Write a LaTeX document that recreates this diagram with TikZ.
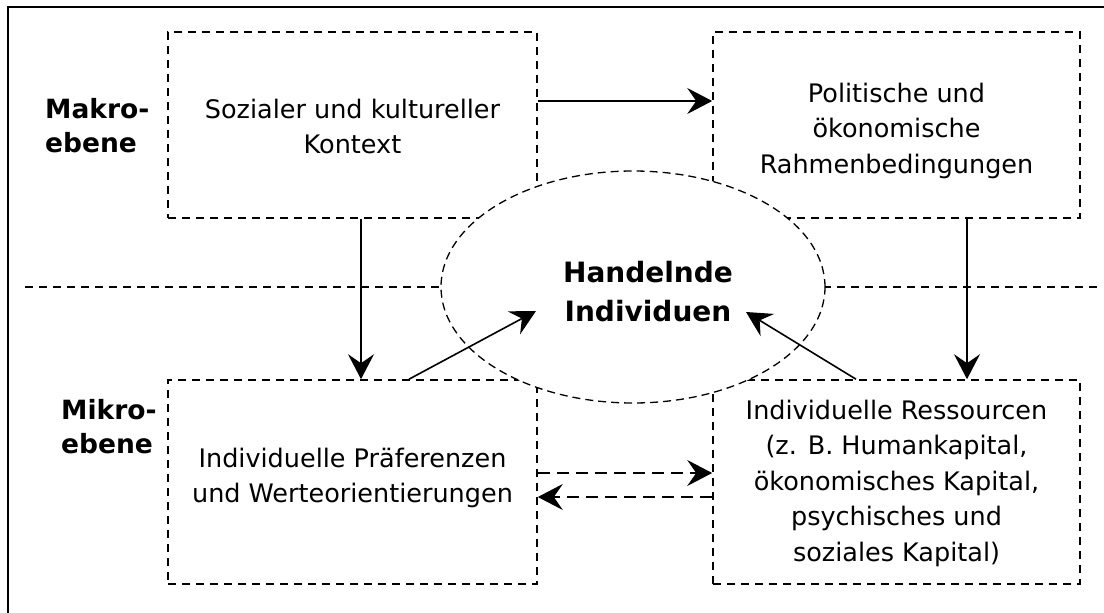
\documentclass[tikz,border=0pt]{standalone}
\usepackage{fontspec}
\setmainfont{DejaVu Sans}
\usetikzlibrary{arrows.meta,shapes.geometric}
\newcommand\firststrut{\rule{0pt}{22pt}}
\begin{document}
\begin{tikzpicture}[x=1pt,y=-1pt,
  box/.style={draw, dash pattern=on 8pt off 6pt, line width=1.6pt, inner sep=0pt},
  txt/.style={inner sep=0pt, align=center, font={\fontsize{25.5pt}{35.5pt}\selectfont}},
  lvl/.style={inner sep=0pt, align=left, anchor=north west, font={\fontsize{26.5pt}{34pt}\selectfont\bfseries}},
  hi/.style={inner sep=0pt, align=center, anchor=north, font={\fontsize{28pt}{39pt}\selectfont\bfseries}},
  divider/.style={dash pattern=on 8pt off 6pt, line width=1.6pt},
  ell/.style={ellipse, draw, fill=white, dash pattern=on 8pt off 5pt, line width=1.3pt, inner sep=0pt},
  arr/.style={-{Stealth[length=25pt,width=26pt,inset=9pt]}, line width=1.6pt},
  darr/.style={arr, dash pattern=on 12pt off 7pt}
]
\useasboundingbox (0,0) rectangle (1104,613);
\clip (0,0) rectangle (1104,613);
% frame
\draw[line width=2.2pt] (8,7) rectangle (1130,640);
% boxes
\node[box, minimum width=369pt, minimum height=186pt] (b1) at (352.5,125) {};
\node[box, minimum width=367pt, minimum height=186pt] (b2) at (896.5,125) {};
\node[box, minimum width=369pt, minimum height=204pt] (b3) at (352.5,482) {};
\node[box, minimum width=367pt, minimum height=204pt] (b4) at (896.5,482) {};
% divider
\coordinate (dl) at (25,287);
\coordinate (dr) at (1097,287);
\draw[divider] (dl) -- (dr);
% ellipse
\node[ell, minimum width=384pt, minimum height=232pt] (el) at (633,287) {};
% helper coordinates
\coordinate (y101) at (0,101);
\coordinate (y473) at (0,473);
\coordinate (y497) at (0,497);
\coordinate (x361) at (361,0);
\coordinate (x967) at (967,0);
\coordinate (x409) at (409,0);
\coordinate (x856) at (856,0);
\coordinate (tipL) at (536,311);
\coordinate (tipR) at (746,312);
% arrows
\draw[arr] (b1.east |- y101) -- (b2.west |- y101);
\draw[arr] (x361 |- b1.south) -- (x361 |- b3.north);
\draw[arr] (x967 |- b2.south) -- (x967 |- b4.north);
\draw[arr] (x409 |- b3.north) -- (tipL);
\draw[arr] (x856 |- b4.north) -- (tipR);
\draw[darr] (b3.east |- y473) -- (b4.west |- y473);
\draw[darr] (b4.west |- y497) -- (b3.east |- y497);
% texts
\node[txt, anchor=north] (t1) at (352.5,96) {\firststrut Sozialer und kultureller\\Kontext};
\node[txt, anchor=north] (t2) at (896.5,80) {\firststrut Politische und\\ökonomische\\Rahmenbedingungen};
\node[txt, anchor=north] (t3) at (352.5,445) {\firststrut Individuelle Präferenzen\\und Werteorientierungen};
\node[txt, anchor=north] (t4) at (896.5,397) {\firststrut Individuelle Ressourcen\\(z. B. Humankapital,\\ökonomisches Kapital,\\psychisches und\\soziales Kapital)};
\node[lvl] (makro) at (45,96) {\firststrut Makro-\\ebene};
\node[lvl] (mikro) at (61,397) {\firststrut Mikro-\\ebene};
\node[hi] (hand) at (648,260) {\firststrut Handelnde\\Individuen};
\end{tikzpicture}
\end{document}
